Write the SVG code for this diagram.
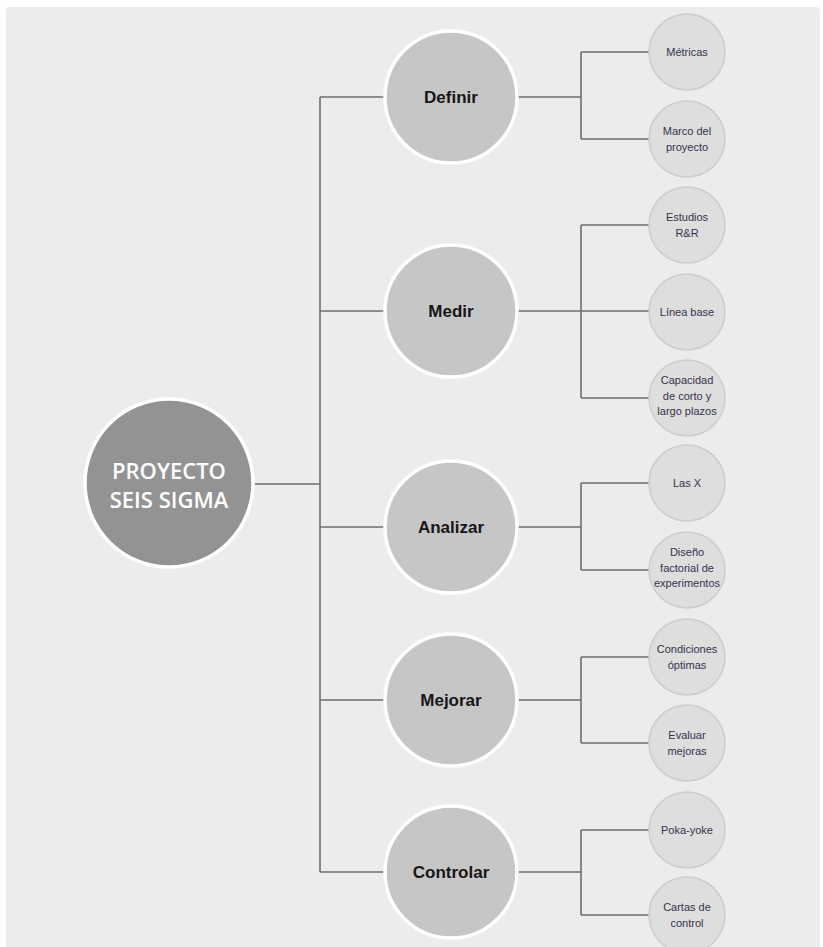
<svg xmlns="http://www.w3.org/2000/svg" width="823" height="947" viewBox="0 0 823 947">
<style>
.bg{fill:#ececec}
.root{fill:#939393;stroke:#ffffff;stroke-width:3.5}
.mid{fill:#c6c6c6;stroke:#ffffff;stroke-width:3.5}
.leaf{fill:#dedede;stroke:#cdcdcd;stroke-width:1.5}
.ln{fill:none;stroke:#6e6e6e;stroke-width:1.6}
.tr{font-family:"Open Sans","Liberation Sans",Arial,sans-serif;font-size:22px;font-weight:600;fill:#ffffff;text-anchor:middle}
.tm{font-family:"Liberation Sans",Arial,sans-serif;font-size:17px;font-weight:bold;fill:#161616;text-anchor:middle}
.tl{font-family:"Liberation Sans",Arial,sans-serif;font-size:11px;fill:#33334a;text-anchor:middle}
</style>
<rect x="0" y="0" width="823" height="947" fill="#ffffff"/>
<rect class="bg" x="6" y="7" width="814" height="945" rx="4"/>
<g id="connectors">
<path class="ln" d="M255 484H320M320 97V872M320 97H385M320 311H385M320 527H385M320 700H385M320 872H385"/>
<path class="ln" d="M517 97H581M581 52V139M581 52H649M581 139H649"/>
<path class="ln" d="M517 311H649M581 225V398M581 225H649M581 398H649"/>
<path class="ln" d="M517 527H581M581 483V570M581 483H649M581 570H649"/>
<path class="ln" d="M517 700H581M581 657V743M581 657H649M581 743H649"/>
<path class="ln" d="M517 872H581M581 830V915M581 830H649M581 915H649"/>
</g>
<g id="root"><circle class="root" cx="169" cy="483" r="84"/><text class="tr" x="169" y="479">PROYECTO</text><text class="tr" x="169" y="508">SEIS SIGMA</text></g>
<g id="definir"><circle class="mid" cx="451" cy="97" r="66"/><text class="tm" x="451" y="103">Definir</text></g>
<g id="medir"><circle class="mid" cx="451" cy="311" r="66"/><text class="tm" x="451" y="317">Medir</text></g>
<g id="analizar"><circle class="mid" cx="451" cy="527" r="66"/><text class="tm" x="451" y="533">Analizar</text></g>
<g id="mejorar"><circle class="mid" cx="451" cy="700" r="66"/><text class="tm" x="451" y="706">Mejorar</text></g>
<g id="controlar"><circle class="mid" cx="451" cy="872" r="66"/><text class="tm" x="451" y="878">Controlar</text></g>
<g id="metricas"><circle class="leaf" cx="687" cy="52" r="38"/><text class="tl" x="687" y="56">Métricas</text></g>
<g id="marco"><circle class="leaf" cx="687" cy="139" r="38"/><text class="tl" x="687" y="135">Marco del</text><text class="tl" x="687" y="151">proyecto</text></g>
<g id="estudios"><circle class="leaf" cx="687" cy="225" r="38"/><text class="tl" x="687" y="221">Estudios</text><text class="tl" x="687" y="237">R&amp;R</text></g>
<g id="linea"><circle class="leaf" cx="687" cy="312" r="38"/><text class="tl" x="687" y="316">Línea base</text></g>
<g id="capacidad"><circle class="leaf" cx="687" cy="398" r="38"/><text class="tl" x="687" y="384">Capacidad</text><text class="tl" x="687" y="400">de corto y</text><text class="tl" x="687" y="415">largo plazos</text></g>
<g id="lasx"><circle class="leaf" cx="687" cy="483" r="38"/><text class="tl" x="687" y="487">Las X</text></g>
<g id="diseno"><circle class="leaf" cx="687" cy="570" r="38"/><text class="tl" x="687" y="556">Diseño</text><text class="tl" x="687" y="572">factorial de</text><text class="tl" x="687" y="587">experimentos</text></g>
<g id="condiciones"><circle class="leaf" cx="687" cy="657" r="38"/><text class="tl" x="687" y="653">Condiciones</text><text class="tl" x="687" y="669">óptimas</text></g>
<g id="evaluar"><circle class="leaf" cx="687" cy="743" r="38"/><text class="tl" x="687" y="739">Evaluar</text><text class="tl" x="687" y="755">mejoras</text></g>
<g id="pokayoke"><circle class="leaf" cx="687" cy="830" r="38"/><text class="tl" x="687" y="834">Poka-yoke</text></g>
<g id="cartas"><circle class="leaf" cx="687" cy="915" r="38"/><text class="tl" x="687" y="911">Cartas de</text><text class="tl" x="687" y="927">control</text></g>
</svg>
